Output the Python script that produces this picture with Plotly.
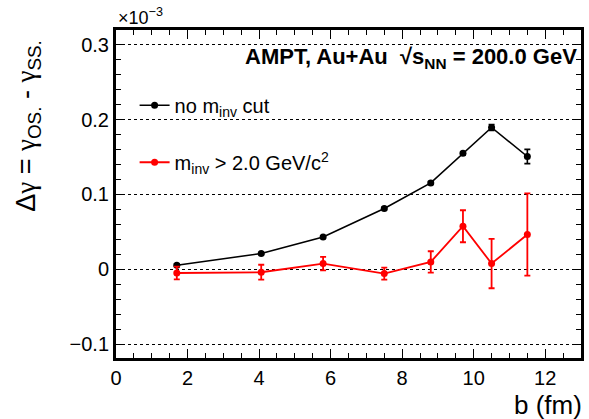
import plotly.graph_objects as go

b_fm = [1.7, 4.06, 5.79, 7.5, 8.8, 9.7, 10.5, 11.5]
dg_nocut = [0.0054, 0.021, 0.0432, 0.0812, 0.1155, 0.155, 0.1896, 0.1508]
dg_nocut_err = [0.0015, 0.0015, 0.0015, 0.0015, 0.0018, 0.002, 0.004, 0.0095]
dg_cut = [-0.005, -0.004, 0.0076, -0.0058, 0.0098, 0.0575, 0.0076, 0.0464]
dg_cut_err = [0.0085, 0.01, 0.009, 0.008, 0.0143, 0.0214, 0.033, 0.055]
y_ticks = [-0.1, 0, 0.1, 0.2, 0.3]
y_ticklabels = ["\u22120.1", "0", "0.1", "0.2", "0.3"]
x_ticks = [0, 2, 4, 6, 8, 10, 12]

FONT = "Liberation Sans, Arial, sans-serif"
G = "<span style='font-family:Liberation Serif'>\u03b3</span>"

fig = go.Figure()
fig.add_trace(go.Scatter(
    x=b_fm, y=dg_nocut, mode="lines+markers",
    name="no m<sub>inv</sub> cut", legendgroup="a",
    line=dict(color="black", width=1.6),
    marker=dict(color="black", size=7, symbol="circle"),
    error_y=dict(type="data", array=dg_nocut_err, color="black", thickness=1.6, width=3),
))
fig.add_trace(go.Scatter(
    x=b_fm, y=dg_cut, mode="lines+markers",
    name="m<sub>inv</sub> > 2.0 GeV/c<sup>2</sup>", legendgroup="b",
    line=dict(color="#ff0000", width=1.8),
    marker=dict(color="#ff0000", size=7, symbol="circle"),
    error_y=dict(type="data", array=dg_cut_err, color="#ff0000", thickness=1.8, width=3),
))

axis_common = dict(
    showline=True, linecolor="black", linewidth=3, mirror="allticks",
    ticks="inside", ticklen=9, tickwidth=1, tickcolor="black",
    tickfont=dict(family=FONT, size=20, color="black"),
    zeroline=False,
)
fig.update_xaxes(
    range=[0, 13], tickvals=x_ticks, showgrid=False,
    minor=dict(dtick=0.5, ticklen=5, ticks="inside", tickcolor="black", tickwidth=1),
    **axis_common,
)
fig.update_yaxes(
    range=[-0.1187, 0.32], tickvals=y_ticks, ticktext=y_ticklabels,
    showgrid=True, gridcolor="black", gridwidth=1, griddash="dot",
    minor=dict(dtick=0.02, tick0=0, ticklen=5, ticks="inside", tickcolor="black", tickwidth=1, showgrid=False),
    **axis_common,
)

fig.update_layout(
    width=589, height=419,
    margin=dict(l=116, r=5, t=30, b=61),
    paper_bgcolor="white", plot_bgcolor="white",
    font=dict(family=FONT, color="black"),
    showlegend=True,
    legend=dict(x=0.04, y=0.83, xanchor="left", yanchor="top",
                bgcolor="rgba(0,0,0,0)", font=dict(family=FONT, size=20),
                tracegroupgap=28),
    annotations=[
        dict(text="\u0394" + G + " = " + G + "<sub>OS.</sub> - " + G + "<sub>SS.</sub>",
             xref="paper", yref="paper", x=-0.188, y=0.975, xanchor="center", yanchor="top",
             textangle=-90, showarrow=False, font=dict(family=FONT, size=27)),
        dict(text="b (fm)", xref="paper", yref="paper", x=1.006, y=-0.142,
             xanchor="right", yanchor="middle", showarrow=False, font=dict(family=FONT, size=26)),
        dict(text="\u00d710<sup>\u22123</sup>", xref="paper", yref="paper", x=0.0, y=1.0,
             xanchor="left", yanchor="bottom", showarrow=False, font=dict(family=FONT, size=18)),
        dict(text="<b>AMPT, Au+Au  \u221as<sub>NN</sub> = 200.0 GeV</b>", xref="paper", yref="paper",
             x=0.995, y=0.915, xanchor="right", yanchor="middle", showarrow=False,
             font=dict(family=FONT, size=22)),
    ],
)

fig.write_html("out.html", config={"displayModeBar": False},
               post_script="document.body.style.margin='0';")
